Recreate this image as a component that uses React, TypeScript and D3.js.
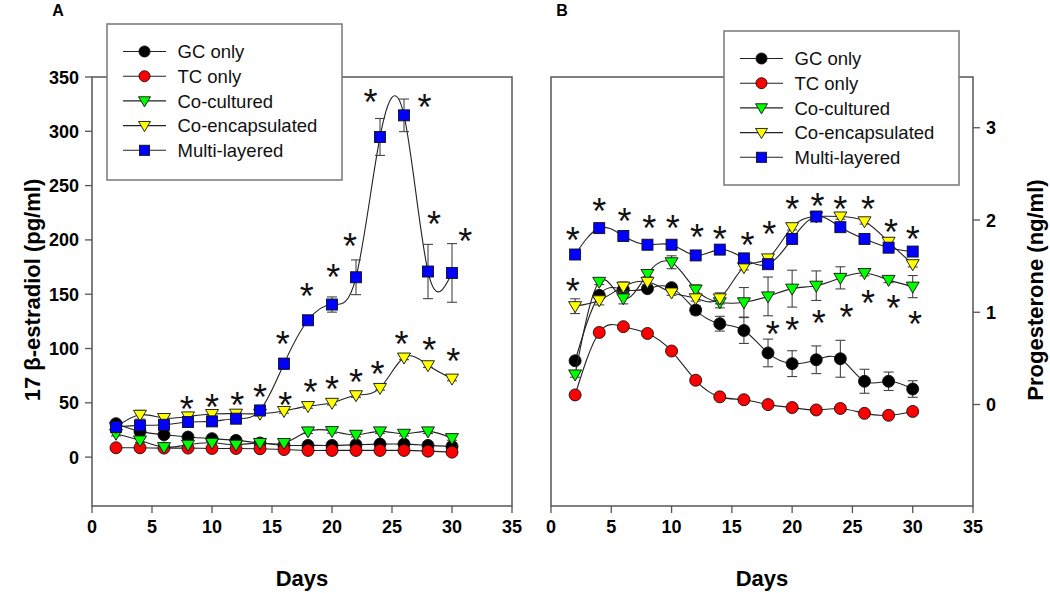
import React from 'react';
import * as d3 from 'd3';

const days = [2, 4, 6, 8, 10, 12, 14, 16, 18, 20, 22, 24, 26, 28, 30];
const seriesNames = ['GC only', 'TC only', 'Co-cultured', 'Co-encapsulated', 'Multi-layered'];
const seriesFills = ['#000000', '#ff0000', '#00ff00', '#ffff00', '#0000ff'];
const seriesShapes = ['circle', 'circle', 'tri', 'tri', 'square'];

// Panel A: 17 beta-estradiol (pg/ml)
const gcA = [30.8, 23.7, 20.6, 18.5, 17, 15.4, 13, 11, 10.8, 10.8, 11.4, 12, 12, 10.8, 9.8];
const tcA = [8.6, 8.6, 8.3, 8.3, 8, 8, 7.7, 7, 6.2, 6.2, 6.2, 6.2, 6.2, 5.5, 4.6];
const ccA = [21.5, 15.4, 9.2, 11.4, 13.2, 11.4, 13, 13, 23.7, 24, 20.6, 23.7, 21.5, 23.7, 17.5];
const ceA = [27.7, 39, 36, 37.5, 39.7, 40, 40, 42.5, 47, 50, 57, 63.7, 91.7, 84.6, 72.3];
const mlA = [27.7, 29.2, 29.8, 32.3, 32.9, 35.4, 43, 86, 126, 140.5, 165.6, 294.8, 314.7, 170.9, 169.6];
const gcErrA = [2, 2, 2, 2, 2, 2, 2, 1, 1, 1, 1, 1, 1, 1, 1];
const tcErrA = [1, 1, 1, 1, 1, 1, 1, 1, 1, 1, 1, 1, 1, 1, 1];
const ccErrA = [2, 2, 1, 1, 1, 1, 1, 1, 2, 2, 2, 2, 2, 2, 2];
const ceErrA = [2, 4, 2, 2, 2, 2, 2, 2, 2, 2, 2, 2, 2, 2, 2];
const mlErrA = [2, 2, 2, 2, 2, 2, 2, 5, 3, 7, 16, 17, 15, 25, 27];
const starsA = [
  [7.9, 50.8], [10, 52.3], [12.1, 54.5], [14, 61.5], [16.1, 54.5], [15.9, 110.7],
  [18.2, 66], [17.9, 154.6], [20, 69], [20.1, 172], [22, 75.4], [21.5, 201],
  [23.8, 83], [23.2, 333], [25.8, 110.8], [27.7, 329], [28.1, 105.5], [28.5, 221],
  [30.1, 94.5], [31.1, 205.5],
];
const yTicksA = [0, 50, 100, 150, 200, 250, 300, 350];

// Panel B: Progesterone (ng/ml)
const gcB = [0.474, 1.183, 1.246, 1.256, 1.267, 1.024, 0.876, 0.802, 0.559, 0.443, 0.485, 0.496, 0.252, 0.252, 0.168];
const tcB = [0.104, 0.781, 0.844, 0.77, 0.58, 0.263, 0.083, 0.052, -0.001, -0.033, -0.059, -0.043, -0.096, -0.117, -0.075];
const ccB = [0.326, 1.33, 1.151, 1.415, 1.542, 1.246, 1.108, 1.108, 1.172, 1.256, 1.288, 1.373, 1.425, 1.351, 1.278];
const ceB = [1.066, 1.13, 1.278, 1.33, 1.214, 1.151, 1.151, 1.489, 1.584, 1.922, 2.038, 2.038, 1.986, 1.764, 1.521];
const mlB = [1.626, 1.912, 1.827, 1.732, 1.732, 1.616, 1.679, 1.584, 1.521, 1.795, 2.038, 1.922, 1.795, 1.7, 1.658];
const gcErrB = [0.03, 0.03, 0.03, 0.03, 0.03, 0.05, 0.08, 0.14, 0.15, 0.14, 0.15, 0.2, 0.13, 0.1, 0.09];
const tcErrB = [0.02, 0.02, 0.02, 0.02, 0.02, 0.02, 0.02, 0.02, 0.02, 0.02, 0.02, 0.02, 0.02, 0.02, 0.02];
const ccErrB = [0.03, 0.03, 0.06, 0.03, 0.07, 0.05, 0.06, 0.16, 0.21, 0.2, 0.16, 0.12, 0.03, 0.03, 0.12];
const ceErrB = [0.08, 0.05, 0.05, 0.03, 0.03, 0.03, 0.06, 0.03, 0.03, 0.03, 0.03, 0.03, 0.03, 0.03, 0.03];
const mlErrB = [0.03, 0.03, 0.03, 0.03, 0.03, 0.03, 0.03, 0.03, 0.03, 0.03, 0.03, 0.03, 0.03, 0.03, 0.03];
const starsB = [
  [1.8, 1.859], [4.0, 2.176], [6.1, 2.06], [8.15, 1.986], [10.1, 1.986], [12.1, 1.891], [14.0, 1.869],
  [16.3, 1.806], [18.1, 1.922], [20.0, 2.197], [22.1, 2.229], [24.0, 2.197], [26.3, 2.197],
  [28.2, 1.943], [30.0, 1.869],
  [1.8, 1.309], [18.4, 0.844], [20.0, 0.887], [22.2, 0.961], [24.5, 1.024], [26.3, 1.172],
  [28.4, 1.119], [30.2, 0.95],
];
const yTicksB = [0, 1, 2, 3];
const xTicks = [0, 5, 10, 15, 20, 25, 30, 35];

const FONT = '"Liberation Sans", Arial, Helvetica, sans-serif';
const AXIS_COLOR = '#555';

function Marker({ shape, x, y, fill, s = 1 }) {
  if (shape === 'circle') {
    return <circle cx={x} cy={y} r={6 * s} fill={fill} stroke="#111" strokeWidth={0.9} />;
  }
  if (shape === 'square') {
    const h = 5.5 * s;
    return <rect x={x - h} y={y - h} width={2 * h} height={2 * h} fill={fill} stroke="#111" strokeWidth={0.9} />;
  }
  const w = 6.5 * s;
  const pts = `${x - w},${y - 4.5 * s} ${x + w},${y - 4.5 * s} ${x},${y + 6.5 * s}`;
  return <polygon points={pts} fill={fill} stroke="#111" strokeWidth={0.9} />;
}

function Panel({ x, y, values, errors, stars, yTicks, tickSide }) {
  const line = d3
    .line()
    .x((d) => x(d[0]))
    .y((d) => y(d[1]))
    .curve(d3.curveNatural);
  const [x0, x1] = x.range();
  const [y0, y1] = y.range();
  const axisX = tickSide === 'left' ? x0 : x1;
  const dir = tickSide === 'left' ? -1 : 1;
  return (
    <g>
      <rect x={x0} y={y1} width={x1 - x0} height={y0 - y1} fill="none" stroke={AXIS_COLOR} strokeWidth={1.5} />
      {xTicks.map((t) => (
        <g key={'xt' + t}>
          <line x1={x(t)} x2={x(t)} y1={y0} y2={y0 + 7} stroke={AXIS_COLOR} strokeWidth={1.3} />
          <text x={x(t)} y={y0 + 27} textAnchor="middle" fontFamily={FONT} fontWeight="bold" fontSize={18}>
            {t}
          </text>
        </g>
      ))}
      {yTicks.map((t) => (
        <g key={'yt' + t}>
          <line x1={axisX} x2={axisX + dir * 7} y1={y(t)} y2={y(t)} stroke={AXIS_COLOR} strokeWidth={1.3} />
          <text
            x={axisX + dir * 13}
            y={y(t) + 6.5}
            textAnchor={tickSide === 'left' ? 'end' : 'start'}
            fontFamily={FONT}
            fontWeight="bold"
            fontSize={18}
          >
            {t}
          </text>
        </g>
      ))}
      {values.map((vals, si) => {
        const pts = days.map((d, i) => [d, vals[i]]);
        return (
          <g key={'s' + si}>
            <path d={line(pts)} fill="none" stroke="#222" strokeWidth={1.1} />
            {days.map((d, i) => {
              const e = errors[si][i];
              const cx = x(d);
              const top = y(vals[i] + e);
              const bot = y(vals[i] - e);
              return (
                <g key={'e' + i} stroke="#444" strokeWidth={1.1}>
                  <line x1={cx} x2={cx} y1={top} y2={bot} />
                  <line x1={cx - 5} x2={cx + 5} y1={top} y2={top} />
                  <line x1={cx - 5} x2={cx + 5} y1={bot} y2={bot} />
                </g>
              );
            })}
            {days.map((d, i) => (
              <Marker key={'m' + i} shape={seriesShapes[si]} x={x(d)} y={y(vals[i])} fill={seriesFills[si]} />
            ))}
          </g>
        );
      })}
      {stars.map((s, i) => (
        <text
          key={'st' + i}
          x={x(s[0])}
          y={y(s[1]) + 20}
          textAnchor="middle"
          fontFamily={FONT}
          fontSize={36}
          fill="#111"
        >
          *
        </text>
      ))}
    </g>
  );
}

function Legend({ left, top, width, height }) {
  return (
    <g>
      <rect x={left} y={top} width={width} height={height} fill="#fff" stroke="#777" strokeWidth={1.5} />
      {seriesNames.map((name, i) => {
        const cy = top + 27.5 + i * 24.7;
        return (
          <g key={name}>
            <line x1={left + 16} x2={left + 59} y1={cy} y2={cy} stroke="#222" strokeWidth={1.1} />
            <Marker shape={seriesShapes[i]} x={left + 37.5} y={cy} fill={seriesFills[i]} s={0.92} />
            <text x={left + 70.5} y={cy + 6.6} fontFamily={FONT} fontSize={18.5} fill="#111">
              {name}
            </text>
          </g>
        );
      })}
    </g>
  );
}

export default function App() {
  const xA = d3.scaleLinear().domain([0, 35]).range([92, 512]);
  const yA = d3.scaleLinear().domain([-45, 350]).range([506, 77]);
  const xB = d3.scaleLinear().domain([0, 35]).range([551, 973]);
  const yB = d3.scaleLinear().domain([-1.1, 3.55]).range([506, 77]);
  return (
    <svg
      width={1050}
      height={593}
      viewBox="0 0 1050 593"
      style={{ position: 'absolute', left: 0, top: 0, background: '#fff' }}
    >
      <rect x={0} y={0} width={1050} height={593} fill="#fff" />
      <Panel
        x={xA}
        y={yA}
        values={[gcA, tcA, ccA, ceA, mlA]}
        errors={[gcErrA, tcErrA, ccErrA, ceErrA, mlErrA]}
        stars={starsA}
        yTicks={yTicksA}
        tickSide="left"
      />
      <Panel
        x={xB}
        y={yB}
        values={[gcB, tcB, ccB, ceB, mlB]}
        errors={[gcErrB, tcErrB, ccErrB, ceErrB, mlErrB]}
        stars={starsB}
        yTicks={yTicksB}
        tickSide="right"
      />
      <Legend left={107} top={24} width={235} height={156} />
      <Legend left={724} top={31} width={235} height={154} />
      <text x={58} y={16} textAnchor="middle" fontFamily={FONT} fontWeight="bold" fontSize={16}>
        A
      </text>
      <text x={562} y={16} textAnchor="middle" fontFamily={FONT} fontWeight="bold" fontSize={16}>
        B
      </text>
      <text
        transform="translate(40,290) rotate(-90)"
        textAnchor="middle"
        fontFamily={FONT}
        fontWeight="bold"
        fontSize={22}
      >
        17 β-estradiol (pg/ml)
      </text>
      <text
        transform="translate(1043,290) rotate(-90)"
        textAnchor="middle"
        fontFamily={FONT}
        fontWeight="bold"
        fontSize={22}
      >
        Progesterone (ng/ml)
      </text>
      <text x={302} y={586} textAnchor="middle" fontFamily={FONT} fontWeight="bold" fontSize={22}>
        Days
      </text>
      <text x={762} y={586} textAnchor="middle" fontFamily={FONT} fontWeight="bold" fontSize={22}>
        Days
      </text>
    </svg>
  );
}
